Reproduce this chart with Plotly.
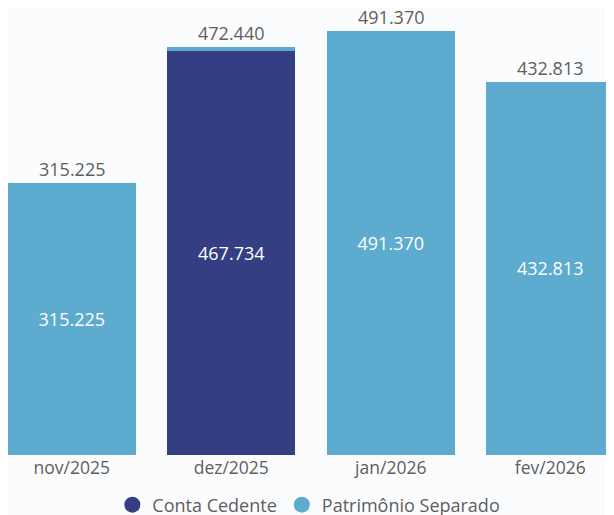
import plotly.graph_objects as go

categories = ["nov/2025", "dez/2025", "jan/2026", "fev/2026"]
conta_cedente = [0, 467734, 0, 0]
patrimonio_separado = [315225, 4706, 491370, 432813]
totals = [a + b for a, b in zip(conta_cedente, patrimonio_separado)]

DARK = "#343E82"
LIGHT = "#5DABCE"
GRAY = "#605E5C"
BG = "#FAFCFE"
FONT = "Open Sans"

def fmt(v):
    return f"{v:,}".replace(",", ".")

def inside_text(vals, minimum=50000):
    return [fmt(v) if v >= minimum else "" for v in vals]

xpos = list(range(len(categories)))

fig = go.Figure()
fig.add_trace(go.Bar(
    x=xpos, y=conta_cedente, marker=dict(color=DARK, line=dict(width=0)), name="Conta Cedente",
    text=inside_text(conta_cedente), textposition="inside", insidetextanchor="middle",
    textfont=dict(color="white", size=18, family=FONT), showlegend=False, width=0.8,
))
fig.add_trace(go.Bar(
    x=xpos, y=patrimonio_separado, marker=dict(color=LIGHT, line=dict(width=0)),
    name="Patrimônio Separado",
    text=inside_text(patrimonio_separado), textposition="inside", insidetextanchor="middle",
    textfont=dict(color="white", size=18, family=FONT), showlegend=False, width=0.8,
))
for x, t in zip(xpos, totals):
    fig.add_annotation(x=x, y=t, text=fmt(t), showarrow=False, yanchor="bottom",
                       yshift=0, font=dict(color=GRAY, size=18, family=FONT))
# legend entries with circle markers
fig.add_trace(go.Scatter(x=[None], y=[None], mode="markers", name="Conta Cedente",
                         marker=dict(color=DARK, size=18, symbol="circle")))
fig.add_trace(go.Scatter(x=[None], y=[None], mode="markers", name="Patrimônio Separado",
                         marker=dict(color=LIGHT, size=18, symbol="circle")))

fig.update_layout(
    width=614, height=515, barmode="stack", separators=",.",
    paper_bgcolor=BG, plot_bgcolor=BG,
    margin=dict(l=0, r=0, t=0, b=68, autoexpand=False),
    font=dict(family=FONT, color=GRAY),
    legend=dict(orientation="h", x=0.49, xanchor="center", yref="container", y=0.035,
                yanchor="middle", traceorder="normal",
                font=dict(size=18, color=GRAY), itemwidth=30, bgcolor="rgba(0,0,0,0)"),
    xaxis=dict(range=[-0.4, 3.45], showgrid=False, zeroline=False, showline=False,
               tickmode="array", tickvals=xpos, ticktext=categories, automargin=False,
               tickfont=dict(size=17.5, color=GRAY), ticks=""),
    yaxis=dict(range=[0, 518020], visible=False, showgrid=False, automargin=False),
    showlegend=True,
)

fig.write_html("out.html")
